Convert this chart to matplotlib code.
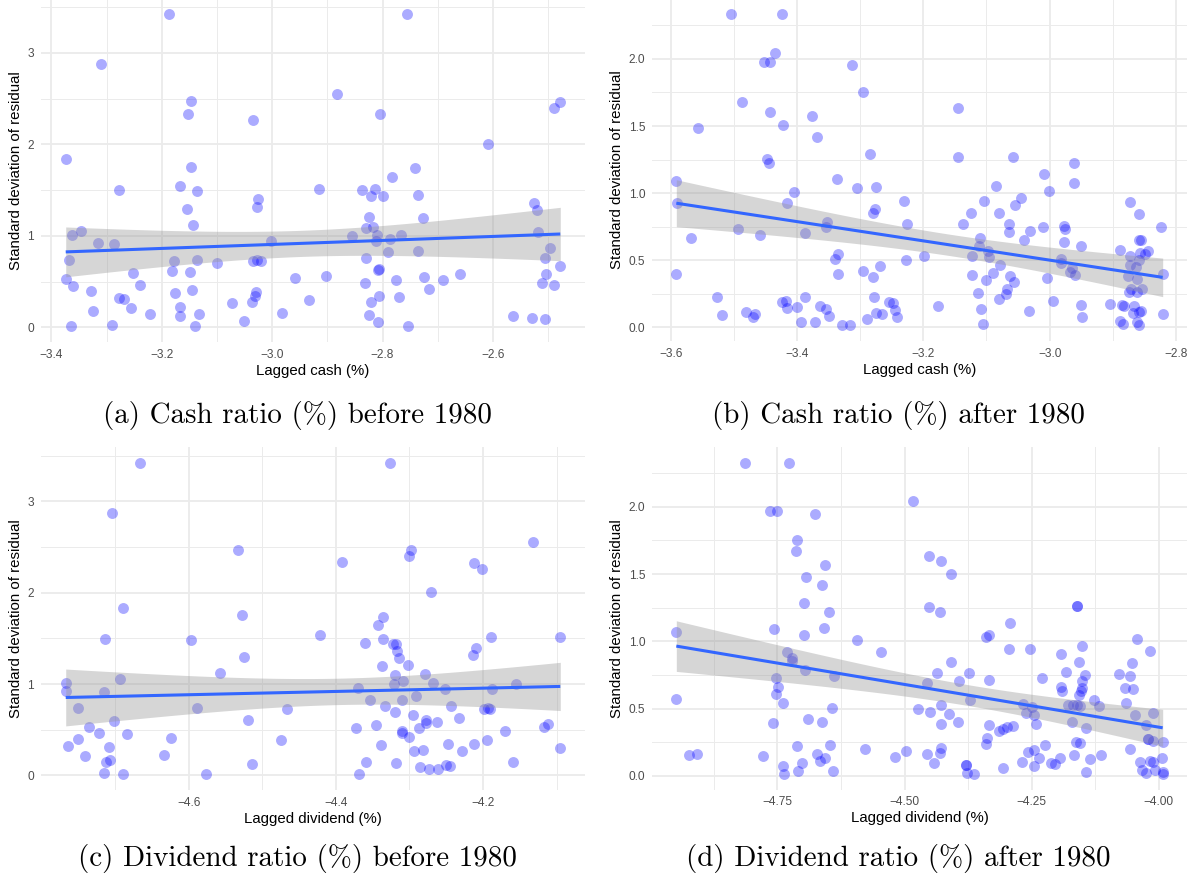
import numpy as np
import matplotlib
matplotlib.use("Agg")
import matplotlib.pyplot as plt
from matplotlib.ticker import FixedLocator, FuncFormatter

# ---------------- data ----------------
cash_pre_x = [-3.187,-3.310,-3.147,-3.152,-3.034,-3.374,-3.147,-3.278,-3.167,-3.137,-3.026,-3.027,-3.155,-3.143,-3.346,-3.363,-3.316,-3.287,-3.003,-3.368,-3.178,-3.137,-3.100,-3.035,-3.027,-3.021,-3.374,-3.181,-3.149,-3.252,-2.959,-3.360,-3.240,-3.329,-3.146,-3.176,-3.029,-3.278,-3.268,-3.031,-3.036,-3.073,-3.324,-3.256,-3.167,-3.167,-3.221,-3.132,-2.982,-3.051,-3.365,-3.291,-3.139,
              -2.755,-2.882,-2.805,-2.479,-2.489,-2.609,-2.741,-2.782,-2.915,-2.838,-2.814,-2.821,-2.800,-2.735,-2.525,-2.521,-2.824,-2.727,-2.830,-2.817,-2.855,-2.810,-2.767,-2.518,-2.812,-2.786,-2.791,-2.735,-2.497,-2.830,-2.506,-2.808,-2.806,-2.776,-2.831,-2.724,-2.691,-2.659,-2.504,-2.512,-2.489,-2.478,-2.902,-2.933,-2.807,-2.821,-2.771,-2.716,-2.825,-2.808,-2.754,-2.564,-2.529,-2.506]
cash_pre_y = [3.425,2.877,2.475,2.337,2.264,1.837,1.752,1.497,1.541,1.486,1.399,1.311,1.289,1.114,1.052,1.012,0.928,0.909,0.946,0.741,0.723,0.741,0.701,0.723,0.734,0.723,0.526,0.613,0.602,0.599,0.537,0.457,0.468,0.394,0.413,0.380,0.391,0.322,0.307,0.347,0.274,0.267,0.175,0.216,0.219,0.125,0.147,0.147,0.153,0.073,0.019,0.022,0.011,
              3.425,2.556,2.330,2.469,2.403,2.004,1.738,1.647,1.512,1.497,1.512,1.439,1.435,1.450,1.358,1.286,1.209,1.194,1.092,1.103,1.001,1.012,1.008,1.045,0.942,0.961,0.821,0.832,0.873,0.756,0.756,0.629,0.640,0.519,0.490,0.552,0.515,0.585,0.588,0.490,0.460,0.668,0.563,0.296,0.347,0.281,0.336,0.420,0.131,0.062,0.011,0.120,0.103,0.088]

cash_post_x = [-3.504,-3.423,-3.434,-3.452,-3.443,-3.313,-3.296,-3.487,-3.443,-3.376,-3.556,-3.422,-3.368,-3.284,-3.447,-3.444,-3.591,-3.336,-3.305,-3.275,-3.405,-3.590,-3.416,-3.276,-3.280,-3.353,-3.354,-3.493,-3.388,-3.459,-3.567,-3.335,-3.339,-3.591,-3.335,-3.295,-3.268,-3.279,-3.527,-3.387,-3.278,-3.518,-3.480,-3.470,-3.467,-3.423,-3.418,-3.416,-3.400,-3.393,-3.371,-3.364,-3.354,-3.349,-3.329,-3.316,-3.289,-3.275,-3.266,-3.254,-3.248,-3.245,-3.242,
               -3.145,-3.145,-3.058,-2.961,-3.009,-2.961,-3.001,-3.085,-3.231,-3.104,-3.045,-3.055,-2.872,-3.125,-3.080,-2.858,-3.225,-3.137,-3.064,-3.065,-3.010,-3.031,-2.977,-2.975,-2.823,-3.041,-3.110,-2.977,-2.951,-2.858,-2.856,-3.112,-2.888,-3.098,-3.199,-3.123,-3.096,-2.872,-2.857,-2.844,-2.849,-3.227,-3.078,-2.982,-2.982,-2.872,-2.858,-2.864,-2.964,-2.968,-2.960,-3.123,-3.089,-3.062,-3.056,-3.100,-3.004,-2.876,-2.861,-2.821,-2.871,-2.861,-2.854,-2.875,-3.114,-3.068,-3.069,-3.080,-2.994,-3.177,-3.108,-3.032,-2.951,-2.948,-2.905,-2.885,-2.883,-2.867,-2.868,-2.858,-2.855,-2.821,-2.888,-2.884,-2.861,-2.859,-3.105]
cash_post_y = [2.334,2.334,2.044,1.975,1.975,1.952,1.753,1.677,1.602,1.572,1.483,1.505,1.420,1.291,1.256,1.222,1.092,1.107,1.040,1.048,1.010,0.924,0.926,0.879,0.852,0.787,0.745,0.733,0.705,0.688,0.663,0.548,0.509,0.397,0.399,0.422,0.459,0.373,0.228,0.228,0.228,0.092,0.112,0.075,0.097,0.191,0.196,0.142,0.149,0.037,0.037,0.159,0.134,0.084,0.015,0.015,0.060,0.109,0.099,0.191,0.179,0.129,0.075,
               1.636,1.269,1.269,1.222,1.140,1.078,1.018,1.055,0.943,0.943,0.966,0.909,0.931,0.849,0.849,0.847,0.772,0.770,0.770,0.710,0.745,0.715,0.757,0.730,0.745,0.651,0.663,0.633,0.608,0.653,0.653,0.606,0.578,0.569,0.531,0.531,0.526,0.531,0.551,0.571,0.544,0.499,0.464,0.507,0.481,0.464,0.501,0.452,0.442,0.412,0.390,0.390,0.402,0.380,0.338,0.352,0.365,0.380,0.358,0.397,0.283,0.261,0.288,0.263,0.256,0.285,0.246,0.209,0.198,0.159,0.136,0.124,0.164,0.075,0.171,0.164,0.159,0.159,0.109,0.112,0.121,0.097,0.047,0.025,0.039,0.017,0.027]

div_pre_x = [-4.666,-4.704,-4.533,-4.689,-4.527,-4.713,-4.597,-4.525,-4.557,-4.767,-4.767,-4.693,-4.715,-4.751,-4.589,-4.466,-4.701,-4.519,-4.736,-4.722,-4.684,-4.764,-4.751,-4.708,-4.624,-4.474,-4.741,-4.634,-4.712,-4.707,-4.514,-4.715,-4.689,-4.576,
             -4.326,-4.392,-4.298,-4.300,-4.212,-4.201,-4.132,-4.270,-4.336,-4.343,-4.421,-4.361,-4.336,-4.322,-4.318,-4.317,-4.314,-4.189,-4.210,-4.213,-4.095,-4.337,-4.302,-4.320,-4.321,-4.309,-4.279,-4.268,-4.370,-4.251,-4.155,-4.188,-4.353,-4.310,-4.291,-4.333,-4.320,-4.244,-4.199,-4.193,-4.191,-4.295,-4.232,-4.372,-4.345,-4.310,-4.310,-4.301,-4.287,-4.278,-4.278,-4.263,-4.170,-4.117,-4.111,-4.339,-4.294,-4.282,-4.247,-4.229,-4.212,-4.194,-4.095,-4.359,-4.318,-4.159,-4.369,-4.286,-4.273,-4.261,-4.250,-4.245]
div_pre_y = [3.424,2.873,2.471,1.836,1.752,1.496,1.482,1.292,1.117,1.008,0.927,1.051,0.909,0.737,0.737,0.723,0.595,0.602,0.526,0.467,0.456,0.321,0.398,0.313,0.412,0.387,0.215,0.219,0.146,0.171,0.124,0.022,0.014,0.011,
             3.424,2.336,2.464,2.405,2.329,2.263,2.559,2.004,1.737,1.646,1.533,1.449,1.496,1.438,1.435,1.358,1.281,1.511,1.398,1.314,1.511,1.194,1.208,1.102,1.000,1.036,1.106,1.014,0.960,0.942,1.000,0.945,0.821,0.828,0.872,0.756,0.697,0.756,0.723,0.734,0.723,0.664,0.631,0.521,0.551,0.485,0.466,0.423,0.518,0.602,0.576,0.584,0.489,0.532,0.562,0.332,0.263,0.280,0.343,0.269,0.346,0.387,0.296,0.142,0.131,0.149,0.014,0.088,0.066,0.072,0.113,0.102]

div_post_x = [-4.813,-4.727,-4.765,-4.750,-4.676,-4.712,-4.714,-4.657,-4.693,-4.663,-4.698,-4.648,-4.757,-4.658,-4.949,-4.698,-4.594,-4.546,-4.732,-4.721,-4.722,-4.696,-4.639,-4.752,-4.749,-4.753,-4.740,-4.949,-4.642,-4.690,-4.758,-4.662,-4.711,-4.647,-4.578,-4.519,-4.925,-4.908,-4.778,-4.673,-4.656,-4.667,-4.740,-4.702,-4.738,-4.709,-4.641,
              -4.483,-4.451,-4.428,-4.408,-4.451,-4.430,-4.160,-4.160,-4.292,-4.339,-4.333,-4.294,-4.254,-4.193,-4.150,-4.043,-4.017,-4.409,-4.156,-4.053,-4.436,-4.374,-4.183,-4.145,-4.078,-4.057,-4.456,-4.393,-4.333,-4.229,-4.151,-4.193,-4.191,-4.150,-4.156,-4.153,-4.066,-4.051,-4.371,-4.128,-4.064,-4.118,-4.474,-4.428,-4.267,-4.249,-4.261,-4.245,-4.178,-4.169,-4.160,-4.154,-4.450,-4.413,-4.046,-4.012,-4.428,-4.395,-4.334,-4.242,-4.171,-4.143,-4.315,-4.306,-4.298,-4.287,-4.024,-4.021,-4.021,-4.011,-3.992,-4.338,-4.339,-4.162,-4.154,-4.223,-4.057,-4.497,-4.429,-4.431,-4.456,-4.441,-4.257,-4.245,-4.235,-4.268,-4.246,-4.211,-4.204,-4.194,-4.167,-4.135,-4.114,-4.307,-4.379,-4.379,-4.378,-4.363,-4.143,-4.036,-4.032,-4.025,-4.017,-4.011,-4.007,-3.994,-3.992,-3.992]
div_post_y = [2.329,2.329,1.970,1.970,1.948,1.750,1.673,1.566,1.480,1.418,1.286,1.222,1.093,1.103,1.073,1.046,1.009,0.922,0.920,0.880,0.855,0.786,0.743,0.726,0.662,0.612,0.543,0.575,0.508,0.421,0.394,0.401,0.225,0.228,0.201,0.144,0.159,0.164,0.149,0.161,0.136,0.109,0.072,0.094,0.015,0.037,0.037,
              2.045,1.633,1.596,1.502,1.254,1.219,1.266,1.266,1.136,1.035,1.051,0.944,0.944,0.909,0.964,1.016,0.927,0.848,0.848,0.843,0.768,0.766,0.773,0.749,0.756,0.743,0.691,0.704,0.714,0.731,0.706,0.659,0.634,0.654,0.602,0.632,0.652,0.649,0.567,0.565,0.545,0.523,0.498,0.530,0.535,0.511,0.471,0.451,0.528,0.528,0.528,0.523,0.478,0.461,0.451,0.466,0.387,0.401,0.379,0.387,0.401,0.357,0.335,0.352,0.367,0.374,0.379,0.275,0.275,0.262,0.255,0.285,0.236,0.255,0.245,0.228,0.201,0.188,0.208,0.169,0.166,0.097,0.176,0.193,0.136,0.106,0.077,0.099,0.089,0.132,0.158,0.124,0.158,0.057,0.082,0.082,0.020,0.015,0.028,0.104,0.045,0.022,0.114,0.106,0.045,0.136,0.032,0.015]

x_labels = ["Lagged cash (%)", "Lagged cash (%)", "Lagged dividend (%)", "Lagged dividend (%)"]
y_label = "Standard deviation of residual"
captions = ["(a) Cash ratio (%) before 1980", "(b) Cash ratio (%) after 1980",
            "(c) Dividend ratio (%) before 1980", "(d) Dividend ratio (%) after 1980"]

# ---------------- style ----------------
W, H = 1195, 888
fig = plt.figure(figsize=(W / 100, H / 100), dpi=100)
SANS = "Liberation Sans"
TICK_C = "#4D4D4D"
GRID_C = "#EBEBEB"


def add_ax(l, t, r, b):
    return fig.add_axes([l / W, 1 - b / H, (r - l) / W, (b - t) / H])


def fmt(spec):
    return FuncFormatter(lambda v, p: spec.format(v).replace("-", "\u2212"))


def panel(ax, x, y, xmaj, xmin, ymaj, ymin, xspec, yspec, xlabel):
    x = np.asarray(x, float)
    y = np.asarray(y, float)
    ax.set_facecolor("white")
    for s in ax.spines.values():
        s.set_visible(False)
    ax.scatter(x, y, s=62, color="blue", alpha=0.33, linewidths=0, zorder=2)
    # linear fit with 95% confidence band
    n = len(x)
    xm = x.mean()
    sxx = ((x - xm) ** 2).sum()
    b = ((x - xm) * (y - y.mean())).sum() / sxx
    a = y.mean() - b * xm
    res = y - (a + b * x)
    s = np.sqrt((res ** 2).sum() / (n - 2))
    xs = np.linspace(x.min(), x.max(), 100)
    yh = a + b * xs
    se = s * np.sqrt(1.0 / n + (xs - xm) ** 2 / sxx)
    ax.fill_between(xs, yh - 1.98 * se, yh + 1.98 * se, color="#999999",
                    alpha=0.4, linewidth=0, zorder=3)
    ax.plot(xs, yh, color="#3366FF", lw=2.2, zorder=4, solid_capstyle="butt")
    # limits like ggplot (5% expansion)
    xr = x.max() - x.min()
    yr = y.max() - y.min()
    ax.set_xlim(x.min() - 0.05 * xr, x.max() + 0.05 * xr)
    ax.set_ylim(y.min() - 0.05 * yr, y.max() + 0.05 * yr)
    ax.xaxis.set_major_locator(FixedLocator(xmaj))
    ax.xaxis.set_minor_locator(FixedLocator(xmin))
    ax.yaxis.set_major_locator(FixedLocator(ymaj))
    ax.yaxis.set_minor_locator(FixedLocator(ymin))
    ax.xaxis.set_major_formatter(fmt(xspec))
    ax.yaxis.set_major_formatter(fmt(yspec))
    ax.grid(True, which="major", color=GRID_C, lw=1.3, zorder=0)
    ax.grid(True, which="minor", color=GRID_C, lw=0.7, zorder=0)
    ax.set_axisbelow(True)
    ax.tick_params(which="both", length=0)
    ax.tick_params(which="major", pad=5, labelsize=8.6, labelcolor=TICK_C)
    for lab in ax.get_xticklabels() + ax.get_yticklabels():
        lab.set_fontfamily(SANS)
    ax.set_xlabel(xlabel, fontsize=10.8, family=SANS, labelpad=2)
    ax.set_ylabel(y_label, fontsize=10.8, family=SANS, labelpad=3)


ax_a = add_ax(41, -1.5, 585, 342)
ax_b = add_ax(652, -1.5, 1187, 341)
ax_c = add_ax(41, 447, 585, 790)
ax_d = add_ax(652, 447, 1187, 789.5)

panel(ax_a, cash_pre_x, cash_pre_y,
      [-3.4, -3.2, -3.0, -2.8, -2.6], [-3.3, -3.1, -2.9, -2.7, -2.5],
      [0, 1, 2, 3], [0.5, 1.5, 2.5, 3.5], "{:.1f}", "{:.0f}", x_labels[0])
panel(ax_b, cash_post_x, cash_post_y,
      [-3.6, -3.4, -3.2, -3.0, -2.8], [-3.5, -3.3, -3.1, -2.9],
      [0, 0.5, 1.0, 1.5, 2.0], [0.25, 0.75, 1.25, 1.75, 2.25], "{:.1f}", "{:.1f}", x_labels[1])
panel(ax_c, div_pre_x, div_pre_y,
      [-4.6, -4.4, -4.2], [-4.7, -4.5, -4.3, -4.1],
      [0, 1, 2, 3], [0.5, 1.5, 2.5, 3.5], "{:.1f}", "{:.0f}", x_labels[2])
panel(ax_d, div_post_x, div_post_y,
      [-4.75, -4.5, -4.25, -4.0], [-4.875, -4.625, -4.375, -4.125],
      [0, 0.5, 1.0, 1.5, 2.0], [0.25, 0.75, 1.25, 1.75, 2.25], "{:.2f}", "{:.1f}", x_labels[3])

cap_pos = [(297, 415), (898, 415), (297, 858), (898, 858)]
for (cx, cy), txt in zip(cap_pos, captions):
    fig.text(cx / W, 1 - cy / H, txt, family="cmr10", fontsize=20.9,
             ha="center", va="center")

fig.savefig("out.png", dpi=100, facecolor="white")
